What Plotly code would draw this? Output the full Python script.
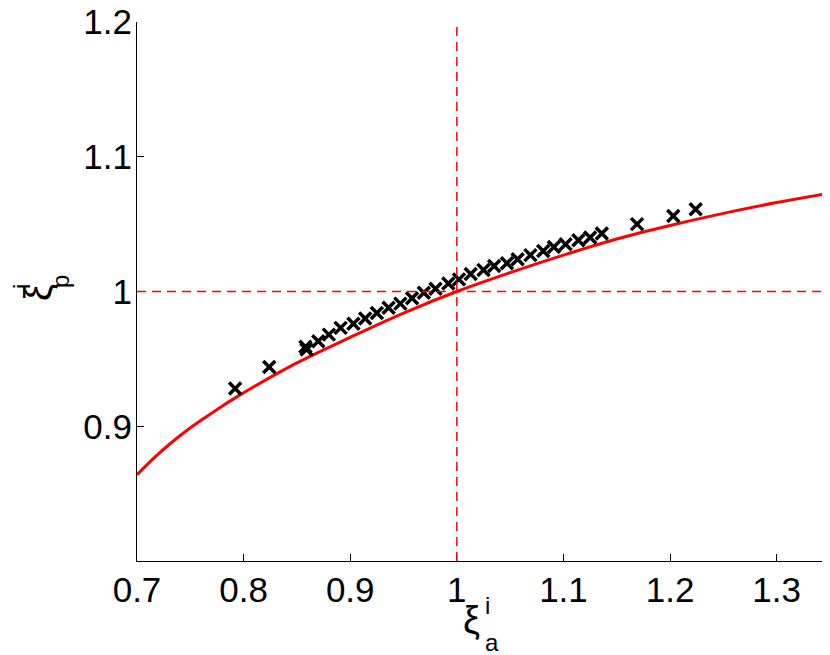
import plotly.graph_objects as go

# Measured points (crosses)
xi_a = [0.792, 0.824, 0.858, 0.859, 0.870, 0.880, 0.891, 0.903, 0.914, 0.925,
        0.936, 0.947, 0.958, 0.969, 0.980, 0.992, 1.002, 1.013, 1.025, 1.035,
        1.047, 1.057, 1.069, 1.081, 1.091, 1.102, 1.114, 1.125, 1.136, 1.169,
        1.203, 1.224]
xi_p = [0.928, 0.944, 0.959, 0.957, 0.963, 0.968, 0.973, 0.976, 0.980, 0.984,
        0.988, 0.991, 0.995, 0.999, 1.002, 1.006, 1.009, 1.013, 1.016, 1.019,
        1.021, 1.024, 1.027, 1.030, 1.033, 1.035, 1.038, 1.040, 1.043, 1.050,
        1.056, 1.061]

# Model curve (red)
curve_x = [0.700, 0.716, 0.731, 0.747, 0.763, 0.778, 0.794, 0.810, 0.850, 0.900,
           0.950, 1.000, 1.050, 1.100, 1.150, 1.200, 1.250, 1.300, 1.350]
curve_y = [0.864, 0.8765, 0.887, 0.897, 0.906, 0.914, 0.922, 0.9295, 0.947, 0.966,
           0.984, 1.000, 1.014, 1.027, 1.039, 1.049, 1.058, 1.066, 1.073]

x_ticks = [0.7, 0.8, 0.9, 1.0, 1.1, 1.2, 1.3]
y_ticks = [0.9, 1.0, 1.1, 1.2]

font_name = "Liberation Sans"

fig = go.Figure()

fig.add_trace(go.Scatter(
    x=curve_x, y=curve_y, mode="lines",
    line=dict(color="#ff0000", width=3, shape="spline"),
    showlegend=False,
))

fig.add_trace(go.Scatter(
    x=xi_a, y=xi_p, mode="markers",
    marker=dict(symbol="x-thin", size=12, line=dict(color="black", width=3.5)),
    showlegend=False,
))

# reference lines at 1
fig.add_vline(x=1.0, line=dict(color="#ff0000", width=1.5, dash="9px,6px"))
fig.add_hline(y=1.0, line=dict(color="#ff0000", width=1.5, dash="9px,6px"))

# page body has an 8px margin, so the figure is 8px smaller each way
fig.update_layout(
    width=822, height=647,
    margin=dict(l=129, r=0, t=14, b=94, autoexpand=False),
    plot_bgcolor="white", paper_bgcolor="white",
    font=dict(family=font_name, size=35, color="black"),
    xaxis=dict(range=[0.7, 1.35], tickvals=x_ticks, ticks="inside", ticklen=7,
               showline=True, linecolor="black", linewidth=1, showgrid=False,
               zeroline=False, tickcolor="black", ticklabelstandoff=-2,
               ticklabeloverflow="allow"),
    yaxis=dict(range=[0.8, 1.2], tickvals=y_ticks, ticks="inside", ticklen=7,
               showline=True, linecolor="black", linewidth=1, showgrid=False,
               zeroline=False, tickcolor="black", ticklabelstandoff=-3,
               ticklabeloverflow="allow"),
)

# axis labels built from pieces so the super/subscripts stack
# (positions given in screenshot pixels, plot area is x 137..830, y 22..561)
W, H = 693, 539


def px(x, y):
    return dict(x=(x - 137) / W, y=(561 - y) / H)


ann = dict(showarrow=False, xref="paper", yref="paper",
           xanchor="center", yanchor="middle",
           font=dict(family=font_name, color="black"))
fig.add_annotation(text="ξ", font_size=38, **px(471, 620), **ann)
fig.add_annotation(text="i", font_size=24, **px(487, 605), **ann)
fig.add_annotation(text="a", font_size=24, **px(492, 642), **ann)

fig.add_annotation(text="ξ", textangle=-90, font_size=38, **px(38, 293), **ann)
fig.add_annotation(text="i", textangle=-90, font_size=24, **px(21, 287), **ann)
fig.add_annotation(text="p", textangle=-90, font_size=24, **px(60, 282), **ann)

fig.write_html("out.html")
